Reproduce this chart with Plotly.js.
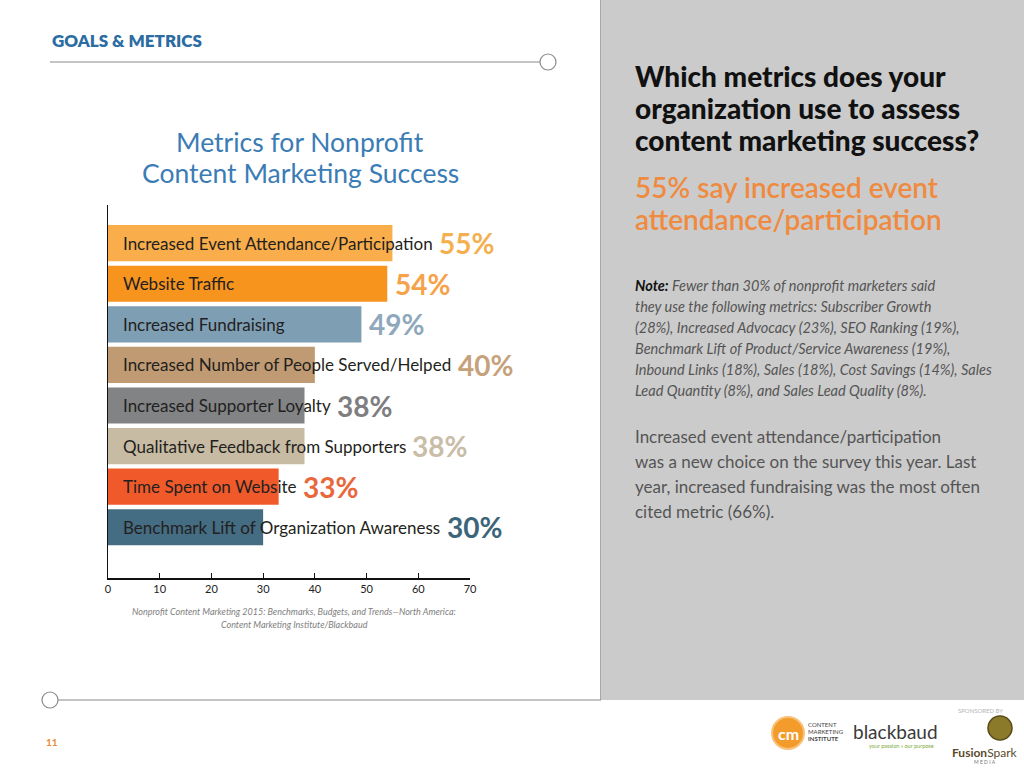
<!DOCTYPE html>
<html>
<head>
<meta charset="utf-8">
<script src="https://cdn.plot.ly/plotly-3.0.1.min.js"></script>
<style>html,body{margin:0;padding:0;background:#fff;}#chart{width:1024px;height:768px;}</style>
</head>
<body>
<div id="chart"></div>
<script>
// ---- data ----
const categories = [
  "Increased Event Attendance/Participation",
  "Website Traffic",
  "Increased Fundraising",
  "Increased Number of People Served/Helped",
  "Increased Supporter Loyalty",
  "Qualitative Feedback from Supporters",
  "Time Spent on Website",
  "Benchmark Lift of Organization Awareness"
];
const values = [55, 54, 49, 40, 38, 38, 33, 30];
const barColors = ["#F9AD4B", "#F7941E", "#7E9EB4", "#C09A72", "#818385", "#C8BBA3", "#F05A2A", "#446C82"];
const valueColors = ["#F4B04F", "#F5A24A", "#8FA8BC", "#C6A27C", "#7E7E80", "#C9BDA8", "#E8673B", "#3C6579"];
const tickVals = [0, 10, 20, 30, 40, 50, 60, 70];

// ---- geometry helpers (plot area in px) ----
const L = 108, R = 470, T = 205, B = 578, W = 1024, H = 768;
const px = x => (x - L) / (R - L);
const py = y => (B - y) / (B - T);
const ppu = (R - L) / 70;

const labelFont = {family: "Lato, 'Open Sans', sans-serif", size: 17, color: "#231F20"};
const valueFont = {family: "Lato, 'Open Sans', sans-serif", size: 28, weight: 700};

const canvas = document.createElement("canvas");
const ctx = canvas.getContext("2d");
function textWidth(t, font) { ctx.font = font; return ctx.measureText(t).width; }

const annotations = [];
const shapes = [];
const labelPad = 13;

categories.forEach((c, i) => {
  annotations.push({x: 0, y: c, xref: "x", yref: "y", text: c, showarrow: false,
    xanchor: "left", yanchor: "middle", xshift: labelPad, font: labelFont});
  const w = textWidth(c, "17px Lato");
  const barPx = values[i] * ppu;
  const shift = Math.max(0, labelPad + w - barPx) + 6;
  annotations.push({x: values[i], y: c, xref: "x", yref: "y", text: "<b>" + values[i] + "%</b>",
    showarrow: false, xanchor: "left", yanchor: "middle", xshift: shift,
    font: Object.assign({}, valueFont, {color: valueColors[i]})});
});

function pa(text, x, y, font, extra) {
  annotations.push(Object.assign({x: px(x), y: py(y), xref: "paper", yref: "paper", text: text,
    showarrow: false, xanchor: "left", yanchor: "middle", font: font}, extra || {}));
}

// header
pa("GOALS &amp; METRICS", 50, 41, {family: "Lato, sans-serif", size: 17, color: "#2B6CA3", weight: 800});
// chart title
const titleFont = {family: "Lato, sans-serif", size: 26.5, color: "#3B7CB5", weight: 400};
pa("Metrics for Nonprofit", 300, 142, titleFont, {xanchor: "center"});
pa("Content Marketing Success", 300, 173, titleFont, {xanchor: "center"});
// source
const srcFont = {family: "Lato, sans-serif", size: 9, color: "#808080"};
pa("<i>Nonprofit Content Marketing 2015: Benchmarks, Budgets, and Trends—North America:</i>", 294, 611, srcFont, {xanchor: "center"});
pa("<i>Content Marketing Institute/Blackbaud</i>", 294, 624, srcFont, {xanchor: "center"});

// right panel
const qFont = {family: "Lato, sans-serif", size: 28, color: "#111111", weight: 900};
["Which metrics does your", "organization use to assess", "content marketing success?"].forEach((t, k) =>
  pa(t, 633, 76 + 32 * k, qFont));
const oFont = {family: "Lato, sans-serif", size: 28, color: "#F08A3E", weight: 600};
["55% say increased event", "attendance/participation"].forEach((t, k) => pa(t, 633, 187 + 32 * k, oFont));
const nFont = {family: "Lato, sans-serif", size: 14.5, color: "#555555"};
const noteLines = [
  "<b style='color:#111'>Note:</b> Fewer than 30% of nonprofit marketers said",
  "they use the following metrics: Subscriber Growth",
  "(28%), Increased Advocacy (23%), SEO Ranking (19%),",
  "Benchmark Lift of Product/Service Awareness (19%),",
  "Inbound Links (18%), Sales (18%), Cost Savings (14%), Sales",
  "Lead Quantity (8%), and Sales Lead Quality (8%)."
];
noteLines.forEach((t, k) => pa("<i>" + t + "</i>", 633, 285 + 21 * k, nFont));
const pFont = {family: "Lato, sans-serif", size: 17, color: "#555555"};
["Increased event attendance/participation", "was a new choice on the survey this year. Last",
 "year, increased fundraising was the most often", "cited metric (66%)."].forEach((t, k) =>
  pa(t, 633, 436 + 25 * k, pFont));

// footer
pa("<b>11</b>", 44, 742, {family: "Lato, sans-serif", size: 10, color: "#E8883A"});
pa("SPONSORED BY", 981, 710, {family: "Lato, sans-serif", size: 6, color: "#B5B5B5"}, {xanchor: "center"});
pa("<b>cm</b>", 788, 733, {family: "Lato, sans-serif", size: 16, color: "#FFFFFF"}, {xanchor: "center"});
pa("CONTENT", 806, 724, {family: "Lato, sans-serif", size: 6, color: "#444"});
pa("MARKETING", 806, 731, {family: "Lato, sans-serif", size: 6, color: "#444"});
pa("INSTITUTE", 806, 738, {family: "Lato, sans-serif", size: 6, color: "#444", weight: 700});
pa("blackbaud", 851, 731, {family: "Lato, sans-serif", size: 19, color: "#3A3A3A"});
pa("your passion » our purpose", 867, 746, {family: "Lato, sans-serif", size: 5.5, color: "#7BAA3A"});
pa("<b>Fusion</b>Spark", 985, 752, {family: "Lato, sans-serif", size: 12, color: "#5A4A2A"}, {xanchor: "center"});
pa("M E D I A", 985, 762, {family: "Lato, sans-serif", size: 5, color: "#777"}, {xanchor: "center"});

function rect(x0, y0, x1, y1, fill, line) {
  shapes.push({type: "rect", xref: "paper", yref: "paper", x0: px(x0), x1: px(x1), y0: py(y1), y1: py(y0),
    fillcolor: fill, line: line || {width: 0}, layer: "below"});
}
function seg(x0, y0, x1, y1, color, width) {
  shapes.push({type: "line", xref: "paper", yref: "paper", x0: px(x0), x1: px(x1), y0: py(y0), y1: py(y1),
    line: {color: color, width: width}});
}
function circ(cx, cy, r, fill, color, width) {
  shapes.push({type: "circle", xref: "paper", yref: "paper", x0: px(cx - r), x1: px(cx + r), y0: py(cy + r), y1: py(cy - r),
    fillcolor: fill, line: {color: color, width: width}});
}
rect(601, 0, 1024, 700, "#CBCBCB");
seg(600.5, 0, 600.5, 700, "#A8A8A8", 1);
seg(50, 62, 540, 62, "#8A8A8A", 1.2);
circ(548, 62, 8, "#FFFFFF", "#8A8A8A", 1.2);
seg(58, 700, 601, 700, "#8A8A8A", 1.2);
circ(50, 700, 8, "#FFFFFF", "#8A8A8A", 1.2);
circ(788, 733, 16, "#F39C2B", "#F7C27A", 2);
circ(1000, 728, 12, "#8A7A2A", "#5A4A1A", 1.5);

const trace = {
  type: "bar", orientation: "h", y: categories, x: values,
  marker: {color: barColors, line: {width: 0}}, width: 0.89,
  hoverinfo: "skip", cliponaxis: false
};

const layout = {
  width: W, height: H,
  margin: {l: L, r: W - R, t: T, b: H - B, pad: 0},
  paper_bgcolor: "#FFFFFF", plot_bgcolor: "rgba(0,0,0,0)",
  showlegend: false,
  xaxis: {range: [0, 70], tickvals: tickVals, ticks: "inside", ticklen: 5, tickwidth: 1.2, tickcolor: "#111",
    showline: true, linecolor: "#111", linewidth: 1.5, showgrid: false, zeroline: false,
    tickfont: {family: "Lato, sans-serif", size: 11, color: "#222"}, fixedrange: true},
  yaxis: {type: "category", range: [8.25, -0.94], showticklabels: false, ticks: "", showline: true,
    linecolor: "#111", linewidth: 1.5, showgrid: false, zeroline: false, fixedrange: true},
  annotations: annotations, shapes: shapes
};

Plotly.newPlot("chart", [trace], layout, {displayModeBar: false, staticPlot: true});
</script>
</body>
</html>
